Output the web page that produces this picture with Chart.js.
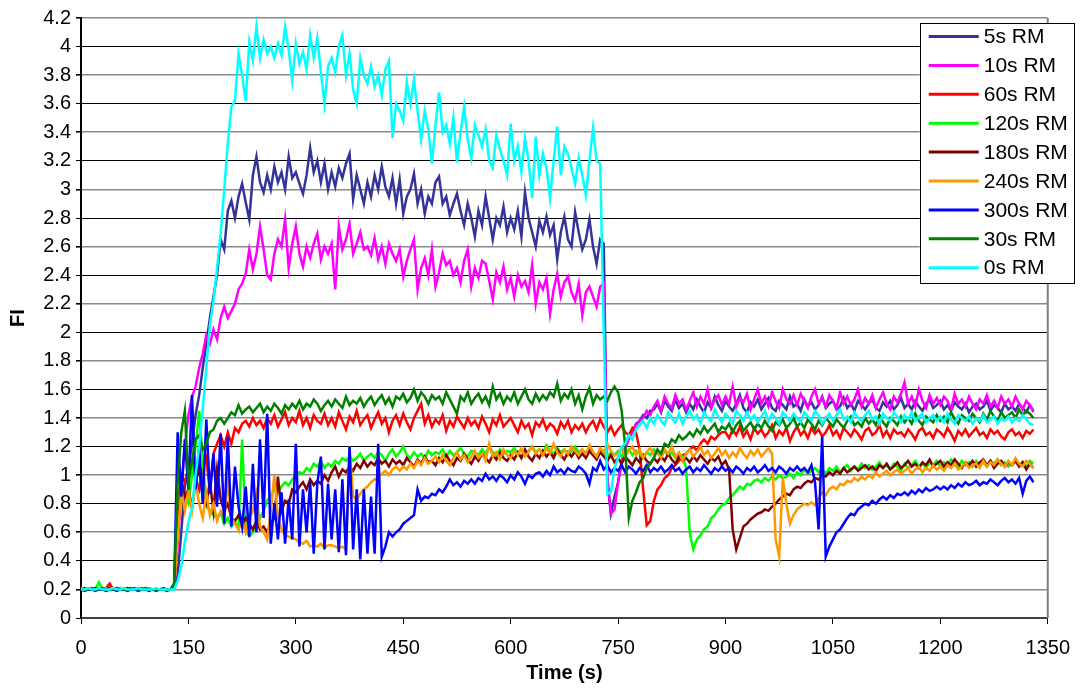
<!DOCTYPE html>
<html>
<head>
<meta charset="utf-8">
<title>FI vs Time</title>
<script src="https://cdn.jsdelivr.net/npm/chart.js@4.4.1/dist/chart.umd.min.js"></script>
<style>
  html, body { margin: 0; padding: 0; background: #fff; }
  #wrap { position: absolute; left: 0; top: 0; width: 1082px; height: 689px; }
</style>
</head>
<body>
<div id="wrap"><canvas id="chart" width="1082" height="689"></canvas></div>
<script>
// Sampling interval of the recorded series (seconds); one value per step from t = 0.
const STEP_S = 5;

// Axis ticks
const X_TICKS = [0, 150, 300, 450, 600, 750, 900, 1050, 1200, 1350];
const Y_MIN = 0, Y_MAX = 4.2, Y_STEP = 0.2;

// Series names (legend order)
const SERIES_NAMES = ['5s RM', '10s RM', '60s RM', '120s RM', '180s RM', '240s RM', '300s RM', '30s RM', '0s RM'];

// FI values, one row per 50 s
const rm5s = [
  0.21,0.2,0.2,0.21,0.2,0.2,0.21,0.2,0.21,0.2,
  0.2,0.21,0.2,0.2,0.21,0.2,0.2,0.21,0.2,0.2,
  0.2,0.2,0.2,0.21,0.2,0.2,0.22,0.3,0.6,0.92,
  1.05,1.22,1.42,1.56,1.75,1.92,2.1,2.25,2.4,2.65,
  2.58,2.85,2.92,2.8,2.95,3.04,2.91,2.79,3.1,3.23,
  3.05,2.98,3.1,3.0,3.16,3.05,3.12,3.0,3.23,3.08,
  3.12,3.04,2.97,3.1,3.29,3.12,3.2,3.05,3.18,3.0,
  3.12,3.02,3.15,3.08,3.18,3.25,2.93,3.1,3.0,2.9,
  3.05,2.95,3.1,3.0,3.16,3.02,2.95,3.08,2.9,3.07,
  2.83,2.95,3.0,3.11,2.9,3.0,2.83,2.95,2.9,3.05,
  3.09,2.9,2.95,2.82,2.9,2.97,2.85,2.75,2.9,2.8,
  2.67,2.85,2.75,2.95,2.8,2.65,2.8,2.75,2.88,2.7,
  2.8,2.72,2.85,2.67,2.98,2.8,2.7,2.6,2.78,2.7,
  2.81,2.68,2.75,2.51,2.7,2.81,2.65,2.6,2.84,2.7,
  2.58,2.65,2.79,2.6,2.48,2.65,2.62,0.95,0.73,0.85,
  0.95,1.1,1.2,1.28,1.3,1.36,1.38,1.42,1.4,1.45,
  1.46,1.5,1.44,1.52,1.48,1.45,1.53,1.47,1.5,1.44,
  1.5,1.46,1.53,1.48,1.44,1.51,1.47,1.55,1.49,1.45,
  1.52,1.48,1.45,1.5,1.56,1.47,1.44,1.51,1.48,1.53,
  1.46,1.5,1.54,1.47,1.45,1.52,1.49,1.46,1.55,1.48,
  1.5,1.45,1.53,1.48,1.51,1.46,1.49,1.55,1.47,1.5,
  1.52,1.46,1.48,1.54,1.47,1.5,1.45,1.52,1.49,1.46,
  1.5,1.53,1.47,1.45,1.51,1.48,1.52,1.46,1.49,1.54,
  1.47,1.5,1.46,1.52,1.48,1.45,1.5,1.53,1.47,1.49,
  1.52,1.46,1.49,1.45,1.51,1.48,1.46,1.5,1.44,1.48,
  1.5,1.46,1.48,1.52,1.45,1.49,1.47,1.44,1.5,1.46,
  1.48,1.45,1.5,1.47,1.44,1.49,1.45
];

const rm10s = [
  0.2,0.21,0.2,0.2,0.2,0.21,0.2,0.21,0.2,0.2,
  0.21,0.2,0.2,0.21,0.2,0.2,0.2,0.21,0.2,0.2,
  0.2,0.2,0.2,0.2,0.2,0.2,0.24,0.5,0.9,1.2,
  1.42,1.55,1.62,1.75,1.85,1.98,1.92,2.02,1.95,2.1,
  2.18,2.1,2.15,2.2,2.3,2.34,2.41,2.58,2.44,2.55,
  2.74,2.58,2.4,2.37,2.55,2.65,2.6,2.79,2.45,2.62,
  2.74,2.55,2.46,2.6,2.52,2.62,2.69,2.51,2.6,2.55,
  2.62,2.3,2.74,2.58,2.65,2.76,2.55,2.62,2.7,2.58,
  2.6,2.54,2.66,2.51,2.6,2.48,2.62,2.55,2.5,2.58,
  2.39,2.5,2.58,2.65,2.3,2.45,2.52,2.4,2.58,2.32,
  2.42,2.55,2.47,2.5,2.4,2.45,2.35,2.5,2.58,2.32,
  2.45,2.38,2.5,2.48,2.36,2.23,2.42,2.35,2.46,2.3,
  2.38,2.25,2.4,2.32,2.36,2.28,2.47,2.2,2.35,2.3,
  2.38,2.13,2.3,2.41,2.25,2.35,2.39,2.28,2.22,2.34,
  2.12,2.28,2.32,2.25,2.18,2.32,2.34,1.0,0.73,0.76,
  0.95,1.08,1.18,1.25,1.3,1.35,1.38,1.4,1.45,1.42,
  1.48,1.52,1.45,1.55,1.5,1.47,1.56,1.5,1.53,1.46,
  1.52,1.58,1.48,1.55,1.5,1.6,1.47,1.53,1.56,1.49,
  1.55,1.5,1.62,1.48,1.54,1.51,1.57,1.46,1.53,1.6,
  1.5,1.55,1.48,1.58,1.52,1.47,1.6,1.53,1.5,1.56,
  1.49,1.57,1.52,1.47,1.55,1.6,1.5,1.54,1.48,1.56,
  1.52,1.47,1.58,1.5,1.55,1.49,1.53,1.6,1.48,1.54,
  1.5,1.56,1.47,1.53,1.58,1.5,1.46,1.55,1.51,1.57,
  1.65,1.5,1.55,1.48,1.6,1.52,1.47,1.56,1.5,1.54,
  1.49,1.55,1.52,1.46,1.57,1.5,1.53,1.48,1.55,1.5,
  1.46,1.53,1.5,1.56,1.48,1.52,1.47,1.55,1.5,1.53,
  1.48,1.55,1.5,1.46,1.52,1.49,1.44
];

const rm60s = [
  0.2,0.2,0.21,0.2,0.2,0.2,0.2,0.21,0.24,0.2,
  0.21,0.2,0.2,0.2,0.21,0.2,0.2,0.2,0.21,0.2,
  0.2,0.2,0.2,0.2,0.2,0.2,0.22,0.75,1.0,0.95,
  1.05,1.1,0.98,0.9,1.05,1.12,0.88,1.15,1.22,1.28,
  1.2,1.3,1.22,1.33,1.3,1.36,1.38,1.34,1.4,1.35,
  1.38,1.33,1.4,1.36,1.42,1.34,1.39,1.44,1.35,1.4,
  1.37,1.45,1.35,1.4,1.33,1.42,1.38,1.36,1.43,1.35,
  1.4,1.34,1.44,1.38,1.32,1.41,1.37,1.45,1.35,1.39,
  1.42,1.33,1.39,1.44,1.36,1.4,1.3,1.38,1.42,1.35,
  1.43,1.37,1.32,1.4,1.45,1.5,1.36,1.42,1.34,1.39,
  1.36,1.42,1.31,1.38,1.34,1.41,1.37,1.33,1.4,1.35,
  1.38,1.33,1.41,1.36,1.3,1.39,1.35,1.42,1.34,1.37,
  1.4,1.35,1.3,1.38,1.33,1.36,1.28,1.37,1.34,1.39,
  1.32,1.36,1.34,1.29,1.37,1.33,1.38,1.3,1.35,1.32,
  1.36,1.3,1.35,1.38,1.32,1.39,1.34,1.3,1.34,1.28,
  1.32,1.35,1.3,1.28,1.33,1.3,1.18,0.9,0.65,0.68,
  0.82,0.9,0.93,0.98,1.0,1.05,1.07,1.1,1.14,1.15,
  1.18,1.2,1.17,1.22,1.25,1.22,1.27,1.25,1.28,1.3,
  1.3,1.26,1.32,1.28,1.34,1.27,1.31,1.25,1.33,1.29,
  1.32,1.27,1.3,1.35,1.26,1.31,1.28,1.33,1.24,1.3,
  1.34,1.28,1.31,1.26,1.33,1.29,1.32,1.27,1.3,1.35,
  1.28,1.31,1.26,1.33,1.3,1.27,1.32,1.29,1.25,1.31,
  1.33,1.28,1.3,1.35,1.27,1.31,1.26,1.32,1.29,1.3,
  1.27,1.32,1.29,1.25,1.31,1.33,1.28,1.3,1.26,1.32,
  1.3,1.27,1.33,1.29,1.24,1.31,1.28,1.32,1.27,1.3,
  1.33,1.28,1.3,1.26,1.32,1.29,1.31,1.27,1.25,1.3,
  1.32,1.28,1.3,1.26,1.31,1.29,1.32
];

const rm120s = [
  0.21,0.2,0.2,0.2,0.2,0.25,0.2,0.21,0.2,0.2,
  0.2,0.2,0.21,0.2,0.2,0.21,0.2,0.2,0.2,0.21,
  0.2,0.2,0.2,0.2,0.2,0.2,0.23,0.7,0.95,0.85,
  0.8,1.0,1.2,1.45,1.1,0.78,0.75,0.72,0.7,0.74,
  0.66,0.7,0.64,0.68,0.62,1.25,0.62,0.57,0.6,0.66,
  0.7,0.75,0.82,0.86,0.9,0.88,0.92,0.95,0.93,0.97,
  1.0,1.02,1.01,1.05,1.03,1.08,1.06,1.1,1.05,1.08,
  1.06,1.1,1.08,1.12,1.1,1.13,1.1,1.12,1.15,1.1,
  1.13,1.15,1.12,1.16,1.14,1.1,1.15,1.18,1.13,1.16,
  1.2,1.14,1.12,1.16,1.13,1.15,1.12,1.17,1.14,1.16,
  1.15,1.18,1.13,1.17,1.14,1.16,1.19,1.15,1.13,1.17,
  1.16,1.14,1.18,1.15,1.2,1.16,1.14,1.18,1.15,1.17,
  1.16,1.19,1.15,1.18,1.14,1.17,1.2,1.16,1.18,1.15,
  1.21,1.17,1.15,1.19,1.16,1.18,1.14,1.17,1.2,1.16,
  1.18,1.15,1.19,1.16,1.13,1.18,1.15,1.12,1.16,1.14,
  1.17,1.13,1.16,1.18,1.14,1.17,1.15,1.12,1.16,1.14,
  1.18,1.15,1.13,1.17,1.14,1.16,1.12,1.15,1.13,1.05,
  0.6,0.48,0.55,0.58,0.62,0.64,0.7,0.72,0.76,0.79,
  0.8,0.84,0.86,0.89,0.92,0.9,0.94,0.93,0.96,0.97,
  0.95,0.98,0.96,0.99,0.97,1.0,0.98,0.99,1.01,0.98,
  1.02,1.0,1.04,1.01,1.03,1.05,1.02,1.04,1.01,1.05,
  1.03,1.06,1.02,1.05,1.07,1.03,1.06,1.04,1.08,1.05,
  1.07,1.04,1.06,1.09,1.05,1.07,1.04,1.08,1.06,1.03,
  1.08,1.05,1.07,1.1,1.06,1.08,1.05,1.09,1.07,1.1,
  1.06,1.09,1.07,1.11,1.08,1.06,1.1,1.07,1.09,1.06,
  1.1,1.07,1.09,1.06,1.1,1.08,1.11,1.07,1.09,1.06,
  1.08,1.1,1.07,1.09,1.06,1.1,1.08
];

const rm180s = [
  0.2,0.21,0.2,0.2,0.21,0.2,0.2,0.2,0.21,0.2,
  0.2,0.2,0.2,0.21,0.2,0.2,0.21,0.2,0.2,0.2,
  0.2,0.2,0.2,0.2,0.2,0.2,0.22,0.6,0.97,0.85,
  0.9,0.78,0.95,1.05,0.85,0.8,0.95,0.75,1.04,0.83,
  0.75,0.8,0.7,0.68,0.72,0.65,0.7,0.66,0.62,0.68,
  0.62,0.64,0.6,0.66,0.7,0.99,0.75,0.82,0.8,0.9,
  0.88,0.92,0.95,0.9,0.97,0.93,0.96,0.94,1.0,0.96,
  1.02,1.06,0.99,1.04,1.02,1.06,1.03,1.08,1.05,1.1,
  1.06,1.09,1.07,1.12,1.08,1.1,1.06,1.11,1.08,1.1,
  1.07,1.12,1.09,1.06,1.11,1.08,1.13,1.09,1.1,1.07,
  1.12,1.09,1.14,1.1,1.07,1.12,1.1,1.15,1.11,1.08,
  1.13,1.1,1.15,1.12,1.09,1.14,1.11,1.16,1.12,1.1,
  1.14,1.11,1.16,1.12,1.18,1.13,1.1,1.15,1.12,1.17,
  1.13,1.16,1.12,1.18,1.14,1.11,1.16,1.13,1.17,1.12,
  1.15,1.12,1.17,1.14,1.11,1.16,1.13,1.1,1.14,1.09,
  1.12,1.08,1.13,1.1,1.07,1.12,1.09,1.14,1.1,1.08,
  1.12,1.09,1.13,1.1,1.15,1.11,1.08,1.13,1.1,1.12,
  1.09,1.13,1.1,1.14,1.11,1.08,1.12,1.1,1.13,1.07,
  1.1,1.04,0.62,0.48,0.56,0.64,0.66,0.69,0.71,0.73,
  0.74,0.76,0.75,0.78,0.8,0.83,0.85,0.87,0.86,0.9,
  0.92,0.91,0.94,0.96,0.95,0.98,0.97,1.0,0.99,1.02,
  1.0,1.03,1.01,1.05,1.02,1.04,1.06,1.03,1.05,1.07,
  1.04,1.06,1.03,1.07,1.05,1.08,1.04,1.06,1.09,1.05,
  1.07,1.1,1.06,1.08,1.05,1.09,1.07,1.11,1.06,1.08,
  1.1,1.06,1.09,1.07,1.11,1.08,1.05,1.09,1.07,1.1,
  1.06,1.09,1.11,1.07,1.1,1.05,1.08,1.1,1.06,1.09,
  1.07,1.1,1.06,1.09,1.04,1.08,1.05
];

const rm240s = [
  0.21,0.2,0.21,0.2,0.2,0.2,0.21,0.2,0.2,0.21,
  0.2,0.21,0.2,0.2,0.2,0.21,0.2,0.2,0.21,0.2,
  0.2,0.2,0.2,0.2,0.2,0.2,0.22,0.55,0.9,0.75,
  0.9,0.75,0.95,0.8,0.7,0.88,0.72,0.8,0.68,0.75,
  0.72,0.95,0.7,0.66,0.62,0.68,0.6,0.7,0.75,0.87,
  0.64,0.6,0.55,0.75,1.0,0.7,0.62,0.58,0.57,0.56,
  0.55,0.53,0.52,0.54,0.5,0.51,0.5,0.52,0.49,0.51,
  0.51,0.5,0.49,0.5,0.48,1.2,0.85,0.83,0.87,0.9,
  0.92,0.95,0.97,0.98,1.01,1.03,1.0,1.04,1.06,1.03,
  1.06,1.04,1.08,1.05,1.1,1.07,1.12,1.08,1.1,1.13,
  1.09,1.14,1.1,1.07,1.12,1.16,1.11,1.14,1.09,1.13,
  1.17,1.12,1.15,1.1,1.22,1.13,1.16,1.11,1.18,1.14,
  1.12,1.17,1.14,1.19,1.13,1.16,1.2,1.15,1.18,1.14,
  1.19,1.15,1.22,1.16,1.13,1.18,1.15,1.2,1.17,1.14,
  1.18,1.15,1.21,1.16,1.13,1.19,1.16,1.22,1.17,1.14,
  1.15,1.19,1.13,1.17,1.2,1.14,1.18,1.12,1.16,1.19,
  1.14,1.17,1.12,1.18,1.15,1.2,1.13,1.16,1.1,1.15,
  1.18,1.13,1.16,1.2,1.14,1.17,1.12,1.15,1.19,1.14,
  1.17,1.12,1.16,1.13,1.19,1.15,1.12,1.17,1.14,1.18,
  1.13,1.16,1.19,1.15,0.55,0.43,0.98,0.8,0.66,0.72,
  0.76,0.78,0.8,0.79,0.81,0.79,0.84,0.88,0.86,0.9,
  0.92,0.9,0.94,0.93,0.96,0.95,0.98,0.96,0.99,0.97,
  1.0,0.98,1.02,0.99,1.01,1.03,1.0,1.02,1.04,1.01,
  1.03,1.05,1.01,1.04,1.06,1.02,1.05,1.03,1.07,1.04,
  1.06,1.03,1.07,1.05,1.08,1.04,1.06,1.09,1.05,1.07,
  1.08,1.05,1.1,1.06,1.09,1.07,1.11,1.08,1.06,1.1,
  1.07,1.12,1.08,1.06,1.1,1.08,1.05
];

const rm300s = [
  0.2,0.19,0.2,0.2,0.19,0.2,0.2,0.19,0.2,0.2,
  0.19,0.2,0.2,0.19,0.2,0.2,0.19,0.2,0.2,0.19,
  0.2,0.19,0.2,0.2,0.19,0.2,0.21,1.3,0.85,1.25,
  0.9,1.56,0.9,1.2,0.8,1.39,0.87,1.15,0.78,1.29,
  0.66,1.27,0.64,1.06,0.78,0.64,0.92,0.57,1.08,0.6,
  1.25,0.7,1.43,0.52,0.8,0.55,0.88,0.52,0.83,0.55,
  1.22,0.5,0.9,0.6,0.95,0.45,0.94,1.13,0.48,0.94,
  0.55,0.9,0.46,0.97,0.44,1.2,0.48,0.9,0.41,0.9,
  0.45,0.85,0.45,1.22,0.43,0.5,0.6,0.57,0.6,0.62,
  0.66,0.68,0.7,0.72,0.9,0.82,0.85,0.84,0.87,0.86,
  0.9,0.88,0.92,0.97,0.93,0.95,0.92,0.96,0.94,0.97,
  0.94,0.98,0.96,1.01,0.97,0.99,0.96,1.0,0.98,0.95,
  1.0,0.97,1.02,0.99,0.94,1.0,0.98,1.01,1.02,0.99,
  1.03,1.0,1.06,1.02,1.04,1.01,1.05,1.03,1.02,1.06,
  1.04,1.01,0.94,1.05,1.03,1.1,1.04,1.07,1.02,1.05,
  1.03,1.07,1.02,1.06,1.04,1.01,1.05,1.03,1.07,1.02,
  1.05,1.03,1.06,1.02,1.04,1.07,1.03,1.05,1.01,1.04,
  1.06,1.02,1.05,1.03,1.07,1.04,1.01,1.05,1.03,1.06,
  1.03,1.05,1.02,1.06,1.04,1.01,1.05,1.03,1.06,1.02,
  1.04,1.07,1.03,1.05,1.02,1.06,1.04,1.01,1.05,1.03,
  1.06,1.03,1.05,1.02,1.07,0.95,0.62,1.27,0.43,0.5,
  0.55,0.6,0.62,0.66,0.7,0.73,0.72,0.76,0.78,0.8,
  0.79,0.82,0.8,0.83,0.85,0.83,0.86,0.84,0.87,0.86,
  0.88,0.86,0.89,0.87,0.9,0.88,0.91,0.89,0.9,0.92,
  0.9,0.92,0.9,0.93,0.91,0.94,0.92,0.95,0.93,0.94,
  0.96,0.93,0.95,0.94,0.97,0.95,0.93,0.96,0.98,0.95,
  0.97,0.94,0.98,0.87,0.96,0.99,0.95
];

const rm30s = [
  0.2,0.2,0.2,0.21,0.2,0.2,0.21,0.2,0.2,0.2,
  0.21,0.2,0.2,0.2,0.2,0.21,0.2,0.2,0.21,0.2,
  0.2,0.2,0.2,0.2,0.2,0.2,0.24,0.95,1.3,1.45,
  0.95,1.1,1.25,1.28,1.18,1.22,1.3,1.32,1.38,1.4,
  1.36,1.4,1.44,1.42,1.49,1.43,1.46,1.48,1.44,1.47,
  1.5,1.44,1.48,1.45,1.5,1.47,1.43,1.49,1.46,1.5,
  1.47,1.52,1.46,1.5,1.48,1.53,1.5,1.45,1.49,1.52,
  1.48,1.53,1.5,1.47,1.55,1.49,1.52,1.5,1.54,1.48,
  1.52,1.55,1.49,1.53,1.56,1.5,1.54,1.48,1.55,1.53,
  1.57,1.51,1.54,1.6,1.52,1.58,1.55,1.5,1.56,1.53,
  1.55,1.5,1.58,1.53,1.48,1.43,1.55,1.52,1.58,1.5,
  1.54,1.57,1.51,1.55,1.49,1.62,1.53,1.57,1.5,1.55,
  1.52,1.58,1.5,1.55,1.6,1.53,1.5,1.57,1.52,1.56,
  1.53,1.58,1.55,1.64,1.52,1.57,1.54,1.6,1.5,1.56,
  1.46,1.55,1.61,1.5,1.56,1.53,1.55,1.52,1.58,1.62,
  1.58,1.45,1.2,0.7,0.82,0.88,0.95,0.98,1.05,1.08,
  1.12,1.18,1.15,1.22,1.2,1.25,1.23,1.28,1.25,1.27,
  1.3,1.27,1.32,1.29,1.34,1.3,1.33,1.36,1.3,1.34,
  1.32,1.36,1.3,1.35,1.38,1.31,1.34,1.37,1.32,1.36,
  1.33,1.38,1.34,1.31,1.37,1.35,1.39,1.33,1.36,1.4,
  1.34,1.37,1.33,1.39,1.36,1.32,1.38,1.35,1.4,1.37,
  1.34,1.39,1.36,1.33,1.38,1.41,1.35,1.37,1.34,1.4,
  1.36,1.39,1.35,1.42,1.37,1.34,1.4,1.38,1.35,1.41,
  1.37,1.4,1.36,1.43,1.38,1.35,1.41,1.39,1.37,1.42,
  1.38,1.41,1.37,1.44,1.39,1.36,1.42,1.4,1.38,1.43,
  1.4,1.37,1.43,1.39,1.45,1.41,1.38,1.44,1.4,1.42,
  1.44,1.4,1.46,1.42,1.45,1.43,1.4
];

const rm0s = [
  0.2,0.2,0.21,0.2,0.2,0.21,0.2,0.2,0.2,0.21,
  0.2,0.2,0.21,0.2,0.2,0.2,0.21,0.2,0.2,0.2,
  0.2,0.21,0.2,0.2,0.2,0.2,0.2,0.26,0.36,0.53,
  0.67,0.77,1.0,1.2,1.46,1.75,2.05,2.22,2.45,2.69,
  3.0,3.32,3.58,3.62,3.95,3.8,3.62,4.03,3.9,4.14,
  3.92,4.05,3.95,4.0,3.92,4.02,3.94,4.14,3.98,3.76,
  4.02,3.88,3.96,3.84,4.08,3.92,4.06,3.82,3.6,3.86,
  3.92,3.82,4.0,4.08,3.8,3.95,3.7,3.6,3.92,3.8,
  3.74,3.86,3.72,3.8,3.66,3.84,3.9,3.36,3.6,3.55,
  3.48,3.75,3.6,3.77,3.55,3.35,3.55,3.42,3.18,3.45,
  3.68,3.4,3.45,3.32,3.5,3.19,3.4,3.58,3.35,3.22,
  3.45,3.38,3.3,3.42,3.2,3.15,3.38,3.28,3.2,3.1,
  3.46,3.2,3.3,3.12,3.36,3.2,2.94,3.37,3.1,3.25,
  3.15,2.94,3.2,3.44,3.1,3.3,3.25,3.15,3.04,3.22,
  3.1,2.96,3.2,3.43,3.2,3.18,2.0,0.87,0.88,1.05,
  1.12,1.2,1.22,1.28,1.25,1.32,1.35,1.38,1.33,1.4,
  1.36,1.42,1.38,1.35,1.44,1.4,1.37,1.43,1.36,1.41,
  1.45,1.39,1.42,1.36,1.44,1.4,1.38,1.46,1.41,1.37,
  1.43,1.4,1.36,1.45,1.42,1.38,1.44,1.39,1.42,1.37,
  1.41,1.45,1.38,1.43,1.4,1.36,1.44,1.41,1.38,1.43,
  1.4,1.37,1.44,1.41,1.38,1.45,1.42,1.36,1.4,1.43,
  1.38,1.42,1.46,1.39,1.41,1.37,1.44,1.4,1.38,1.42,
  1.45,1.39,1.41,1.36,1.43,1.4,1.38,1.44,1.41,1.37,
  1.42,1.39,1.44,1.38,1.41,1.43,1.37,1.4,1.42,1.38,
  1.41,1.37,1.43,1.39,1.36,1.42,1.4,1.38,1.41,1.36,
  1.4,1.38,1.42,1.37,1.39,1.41,1.36,1.4,1.38,1.41,
  1.37,1.4,1.38,1.42,1.39,1.36,1.35
];

const SERIES_VALUES = [rm5s, rm10s, rm60s, rm120s, rm180s, rm240s, rm300s, rm30s, rm0s];
const SERIES_COLORS = ['#333399', '#FF00FF', '#FF0000', '#00FF00', '#800000', '#FF9900', '#0000FF', '#008000', '#00FFFF'];

const FONT = "'Liberation Sans', Arial, sans-serif";

function toPoints(values) {
  return values.map((v, i) => ({ x: i * STEP_S, y: v }));
}

// Later series are painted over earlier ones (0s RM on top).
const datasets = SERIES_NAMES.map((name, i) => ({
  label: name,
  data: toPoints(SERIES_VALUES[i]),
  borderColor: SERIES_COLORS[i],
  backgroundColor: SERIES_COLORS[i],
  borderWidth: 2.5,
  pointRadius: 0,
  tension: 0,
  fill: false,
  order: SERIES_NAMES.length - i
}));

// Plot frame on the right plus the boxed legend in the upper-right corner.
const frameAndLegend = {
  id: 'frameAndLegend',
  afterDatasetsDraw(chart) {
    const { ctx, chartArea } = chart;
    ctx.save();
    ctx.strokeStyle = '#808080';
    ctx.lineWidth = 2;
    ctx.beginPath();
    ctx.moveTo(chartArea.right, chartArea.top);
    ctx.lineTo(chartArea.right, chartArea.bottom);
    ctx.stroke();
    ctx.restore();
  },
  afterDraw(chart) {
    const { ctx, chartArea } = chart;
    const boxL = chartArea.right - 128, boxT = chartArea.top + 5;
    const boxW = 154, boxH = 260, rowH = 28.9;
    ctx.save();
    ctx.fillStyle = '#fff';
    ctx.fillRect(boxL, boxT, boxW, boxH);
    ctx.strokeStyle = '#000';
    ctx.lineWidth = 1;
    ctx.strokeRect(Math.round(boxL) + 0.5, Math.round(boxT) + 0.5, boxW, boxH);
    ctx.font = '21px ' + FONT;
    ctx.textBaseline = 'middle';
    ctx.textAlign = 'left';
    SERIES_NAMES.forEach((name, i) => {
      const y = boxT + 13.5 + i * rowH;
      ctx.strokeStyle = SERIES_COLORS[i];
      ctx.lineWidth = 3;
      ctx.beginPath();
      ctx.moveTo(boxL + 9, y);
      ctx.lineTo(boxL + 59, y);
      ctx.stroke();
      ctx.fillStyle = '#000';
      ctx.fillText(name, boxL + 64, y + 1);
    });
    ctx.restore();
  }
};

new Chart(document.getElementById('chart'), {
  type: 'line',
  data: { datasets },
  options: {
    responsive: false,
    animation: false,
    devicePixelRatio: 1,
    layout: { padding: { left: 0, right: 31, top: 18, bottom: 0 } },
    plugins: {
      legend: { display: false },
      tooltip: { enabled: false }
    },
    scales: {
      x: {
        type: 'linear',
        min: 0,
        max: 1350,
        afterBuildTicks(scale) { scale.ticks = X_TICKS.map(v => ({ value: v })); },
        afterFit(scale) { scale.height = 71; },
        ticks: {
          color: '#000',
          font: { family: FONT, size: 20 },
          padding: 12,
          maxRotation: 0,
          callback: v => String(v)
        },
        grid: { drawOnChartArea: false, drawTicks: true, tickLength: 6, tickColor: '#000', tickWidth: 1 },
        border: { display: true, color: '#404040', width: 2 },
        title: { display: true, text: 'Time (s)', color: '#000', font: { family: FONT, size: 20, weight: 'bold' }, padding: { top: 0, bottom: 4 } }
      },
      y: {
        min: Y_MIN,
        max: Y_MAX,
        afterFit(scale) { scale.width = 81; },
        ticks: {
          stepSize: Y_STEP,
          color: '#000',
          font: { family: FONT, size: 20 },
          padding: 5,
          callback: v => String(Number(v.toFixed(1)))
        },
        grid: {
          drawTicks: true,
          tickLength: 5,
          tickColor: '#000',
          color: c => (Math.round(c.tick.value * 10) % 4 === 0 ? '#000' : '#8a8a8a'),
          lineWidth: c => (Math.round(c.tick.value * 10) % 4 === 0 ? 1 : 1.6)
        },
        border: { display: true, color: '#000', width: 2 },
        title: { display: true, text: 'FI', color: '#000', font: { family: FONT, size: 20, weight: 'bold' }, padding: { top: 6, bottom: 0 } }
      }
    }
  },
  plugins: [frameAndLegend]
});
</script>
</body>
</html>
